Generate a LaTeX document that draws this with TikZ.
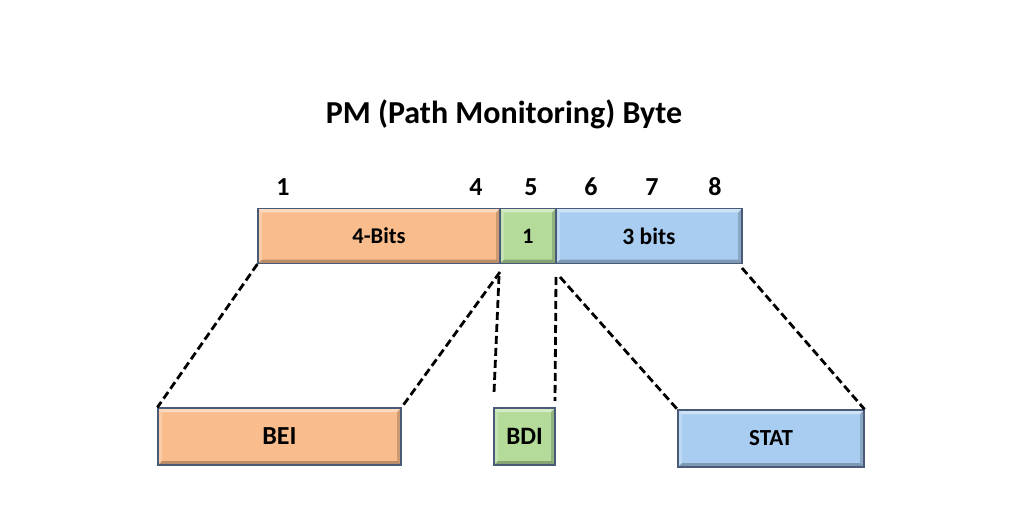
\documentclass[tikz,border=0pt]{standalone}
\usepackage{fontspec}
\setmainfont{Carlito}
\definecolor{peach}{HTML}{F9BC8C}
\definecolor{lgreen}{HTML}{B4DB9A}
\definecolor{lblue}{HTML}{A9CDF1}
\definecolor{edge}{HTML}{4A5B78}
\tikzset{
  bevel/.style={
    draw=edge, line width=1.2pt, fill=#1, inner sep=0pt,
    font=\bfseries,
    path picture={
      \fill[white,opacity=.45] (path picture bounding box.north west) -- (path picture bounding box.north east) -- ([xshift=-4pt,yshift=-4pt]path picture bounding box.north east) -- ([xshift=4pt,yshift=-4pt]path picture bounding box.north west) -- cycle;
      \fill[white,opacity=.25] (path picture bounding box.north west) -- ([xshift=4pt,yshift=-4pt]path picture bounding box.north west) -- ([xshift=4pt,yshift=4pt]path picture bounding box.south west) -- (path picture bounding box.south west) -- cycle;
      \fill[black,opacity=.18] (path picture bounding box.north east) -- ([xshift=-4pt,yshift=-4pt]path picture bounding box.north east) -- ([xshift=-4pt,yshift=4pt]path picture bounding box.south east) -- (path picture bounding box.south east) -- cycle;
      \fill[black,opacity=.25] (path picture bounding box.south west) -- ([xshift=4pt,yshift=4pt]path picture bounding box.south west) -- ([xshift=-4pt,yshift=4pt]path picture bounding box.south east) -- (path picture bounding box.south east) -- cycle;
    }},
  dline/.style={black, line width=2.8pt, dash pattern=on 8pt off 4pt},
  numlbl/.style={font=\bfseries\fontsize{26}{30}\selectfont, inner sep=0pt}
}
\begin{document}
\begin{tikzpicture}[x=1pt,y=-1pt]
\useasboundingbox[fill=white] (0,0) rectangle (1024,529);
\node[font=\bfseries\fontsize{32}{36}\selectfont] (title) at (504,114) {PM (Path Monitoring) Byte};
\node[numlbl] (n1) at (283,187) {1};
\node[numlbl] (n4) at (476,187) {4};
\node[numlbl] (n5) at (531,187) {5};
\node[numlbl] (n6) at (591,187) {6};
\node[numlbl] (n7) at (652,187) {7};
\node[numlbl] (n8) at (715,187) {8};
\node[bevel=peach, minimum width=242pt, minimum height=55pt, font=\bfseries\fontsize{22.5}{26}\selectfont] (b4) at (379,236) {4-Bits};
\node[bevel=lgreen, minimum width=56pt, minimum height=55pt, font=\bfseries\fontsize{22}{26}\selectfont] (b1) at (528,236) {1};
\node[bevel=lblue, minimum width=186pt, minimum height=55pt, font=\bfseries\fontsize{23.5}{26}\selectfont] (b3) at (649,236) {3 bits};
\node[bevel=peach, minimum width=243pt, minimum height=57pt, font=\bfseries\fontsize{26}{30}\selectfont] (bei) at (279.5,436.5) {BEI};
\node[bevel=lgreen, minimum width=61pt, minimum height=57pt, font=\bfseries\fontsize{25}{30}\selectfont] (bdi) at (524.5,436.5) {BDI};
\node[bevel=lblue, minimum width=186pt, minimum height=57pt, font=\bfseries\fontsize{23}{26}\selectfont] (stat) at (771,438.5) {STAT};
\coordinate (c2) at (500,272);
\coordinate (c3) at (499,276);
\coordinate (e3) at (494,393);
\coordinate (c4) at (556,277);
\coordinate (e4) at (555,401);
\coordinate (c5) at (560,277);
\coordinate (c6) at (742,268);
\draw[dline] (b4.south west) -- (bei.north west);
\draw[dline] (c2) -- (bei.north east);
\draw[dline] (c3) -- (e3);
\draw[dline] (c4) -- (e4);
\draw[dline] (c5) -- (stat.north west);
\draw[dline] (c6) -- (stat.north east);
\end{tikzpicture}
\end{document}
